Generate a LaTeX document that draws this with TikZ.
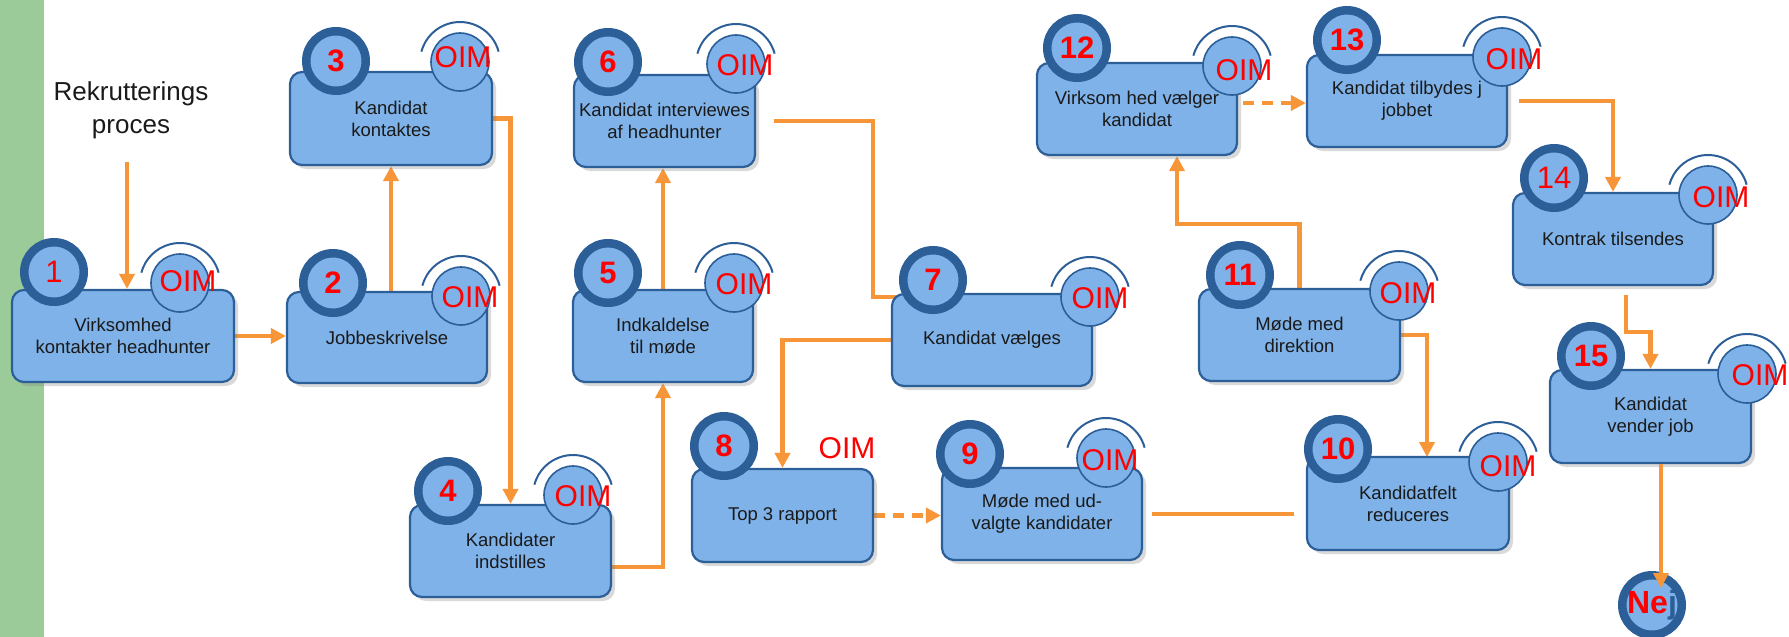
\documentclass[tikz,border=0pt]{standalone}
\usepackage{fontspec}
\setmainfont{Liberation Sans}
\usetikzlibrary{arrows.meta,shadows,backgrounds}
\definecolor{boxblue}{RGB}{126,178,232}
\definecolor{ringblue}{RGB}{44,94,152}
\definecolor{flowor}{RGB}{247,150,56}
\definecolor{greenbar}{RGB}{155,203,152}
\definecolor{textdark}{RGB}{26,26,26}
\newcommand\myBody{\fontsize{18.5}{22}\selectfont}
\newcommand\myNum{\fontsize{31}{31}\selectfont\bfseries}
\newcommand\myNumR{\fontsize{31}{31}\selectfont}
\newcommand\myOim{\fontsize{30}{30}\selectfont}
\newcommand\myTitle{\fontsize{26}{33}\selectfont}
\newcommand\oimmark[5]{%
  \node[oimc] (#1) at (#2,#3) {};
  \draw[arcst] ([shift={(15:40pt)}]#1.center) arc[start angle=15,end angle=165,radius=40pt];
  \node[oimt] (#1t) at (#4,#5) {OIM};
}
\begin{document}
\begin{tikzpicture}[x=1pt,y=-1pt,
  pbox/.style={draw=ringblue, line width=2.2pt, fill=boxblue, rounded corners=12pt,
    inner sep=0pt, align=center, font=\myBody, text=textdark,
    drop shadow={shadow xshift=4pt, shadow yshift=-4pt, opacity=0.3}},
  numbadge/.style={circle, draw=ringblue, line width=8.5pt, fill=boxblue,
    minimum size=59.5pt, inner sep=0pt, text=red, font=\myNum,
    drop shadow={shadow xshift=3pt, shadow yshift=-3pt, opacity=0.3}},
  oimc/.style={circle, draw=ringblue, line width=1.6pt, fill=boxblue, minimum size=58pt, inner sep=0pt},
  oimt/.style={text=red, font=\myOim, inner sep=0pt},
  arcst/.style={draw=ringblue, line width=2pt},
  flow/.style={draw=flowor, line width=4.5pt},
  arr/.style={flow, -{Triangle[length=15pt,width=15pt]}},
  flowdash/.style={dash pattern=on 11pt off 8pt}
]
\useasboundingbox (0,0) rectangle (1789,637);

% title
\node[font=\myTitle, align=center, text=textdark] (title) at (131,110) {Rekrutterings\\proces};
\coordinate (src) at (127,162);

% boxes
\node[pbox, minimum width=222pt, minimum height=92pt] (b1) at (123,336) {Virksomhed\\kontakter headhunter};
\node[pbox, minimum width=200pt, minimum height=91pt] (b2) at (387,337.5) {Jobbeskrivelse};
\node[pbox, minimum width=202pt, minimum height=93pt] (b3) at (391,118.5) {Kandidat\\kontaktes};
\node[pbox, minimum width=201pt, minimum height=92pt] (b4) at (510.5,551) {Kandidater\\indstilles};
\node[pbox, minimum width=180pt, minimum height=92pt] (b5) at (663,336) {Indkaldelse\\til møde};
\node[pbox, minimum width=181pt, minimum height=92pt] (b6) at (664.5,121) {Kandidat interviewes\\af headhunter};
\node[pbox, minimum width=200pt, minimum height=92pt] (b7) at (992,340) {Kandidat vælges};
\node[pbox, minimum width=181pt, minimum height=93pt] (b8) at (782.5,515.5) {Top 3 rapport};
\node[pbox, minimum width=200pt, minimum height=92pt] (b9) at (1042,514) {Møde med ud-\\valgte kandidater};
\node[pbox, minimum width=202pt, minimum height=93pt] (b10) at (1408,503.5) {Kandidatfelt\\reduceres};
\node[pbox, minimum width=201pt, minimum height=92pt] (b11) at (1299.5,335) {Møde med\\direktion};
\node[pbox, minimum width=200pt, minimum height=92pt] (b12) at (1137,109) {Virksom hed vælger\\kandidat};
\node[pbox, minimum width=200pt, minimum height=92pt] (b13) at (1407,101) {Kandidat tilbydes j\\jobbet};
\node[pbox, minimum width=200pt, minimum height=92pt] (b14) at (1613,239) {Kontrak tilsendes};
\node[pbox, minimum width=201pt, minimum height=93pt] (b15) at (1650.5,416.5) {Kandidat\\vender job};

% number badges
\node[numbadge, font=\myNumR] (k1) at (54,272) {1};
\node[numbadge] (k2) at (333,283) {2};
\node[numbadge] (k3) at (336,61) {3};
\node[numbadge] (k4) at (448,491) {4};
\node[numbadge] (k5) at (608,273) {5};
\node[numbadge] (k6) at (608,62) {6};
\node[numbadge] (k7) at (933,280) {7};
\node[numbadge] (k8) at (724,446) {8};
\node[numbadge] (k9) at (970,454) {9};
\node[numbadge] (k10) at (1338,449) {10};
\node[numbadge] (k11) at (1240,275) {11};
\node[numbadge] (k12) at (1077,48) {12};
\node[numbadge] (k13) at (1347,40) {13};
\node[numbadge, font=\myNumR] (k14) at (1554,178) {14};
\node[numbadge] (k15) at (1591,356) {15};
\node[numbadge, font={\fontsize{32}{32}\selectfont\bfseries}] (nej) at (1652,605) {Ne{\color{ringblue}j}};

% OIM marks
\oimmark{o1}{180}{283}{188}{281}
\oimmark{o2}{461}{296}{470}{297}
\oimmark{o3}{460}{62}{463}{57}
\oimmark{o4}{573}{495}{583}{496}
\oimmark{o5}{734}{283}{744}{284}
\oimmark{o6}{736}{64}{745}{65}
\oimmark{o7}{1090}{297}{1100}{298}
\node[oimt] (o8t) at (847,448) {OIM};
\oimmark{o9}{1106}{458}{1110}{460}
\oimmark{o10}{1498}{462}{1508}{466}
\oimmark{o11}{1399}{291}{1408}{293}
\oimmark{o12}{1232}{66}{1244}{70}
\oimmark{o13}{1502}{57}{1514}{59}
\oimmark{o14}{1708}{195}{1721}{197}
\oimmark{o15}{1747}{374}{1760}{375}

% connector coordinates
\coordinate (c67) at (873,297);
\coordinate (c1110) at (1427,457);
\coordinate (c1112) at (1177,224);
\coordinate (s1213) at (1243,103);
\coordinate (s1415) at (1626,295);
\coordinate (c1415) at (1626,332);
\coordinate (tnej) at (1661,588);

\begin{pgfonlayer}{background}
  \fill[greenbar] (0,0) rectangle (44,637);
  \draw[arr] (src) -- (src |- b1.north);
  \draw[arr] (b1.east) -- (b1.east -| b2.west);
  \draw[arr] (b3.south |- b2.north) -- (b3.south);
  \draw[arr] (b3.east) -| (b4.north);
  \draw[arr] ([yshift=-16pt]b4.east) -| (b5.south);
  \draw[arr] (b5.north) -- (b5.north |- b6.south);
  \draw[flow] ([xshift=18pt]b6.east) -| (c67) -- ++(35,0);
  \draw[arr] (b7.west) -| (b8.north);
  \draw[arr, flowdash] (b8.east) -- (b8.east -| b9.west);
  \draw[flow] ([xshift=9pt]b9.east) -- ([xshift=-12pt]b9.east -| b10.west);
  \draw[arr] (b11.east) -| (c1110);
  \draw[arr] (b11.north) |- (c1112) -- (c1112 |- b12.south);
  \draw[arr, flowdash] (s1213) -- (s1213 -| b13.west);
  \draw[arr] ([xshift=11pt]b13.east) -| (b14.north);
  \draw[arr] (s1415) -- (c1415) -| (b15.north);
\end{pgfonlayer}
\draw[arr] (tnej |- b15.south) -- (tnej);
\end{tikzpicture}
\end{document}
